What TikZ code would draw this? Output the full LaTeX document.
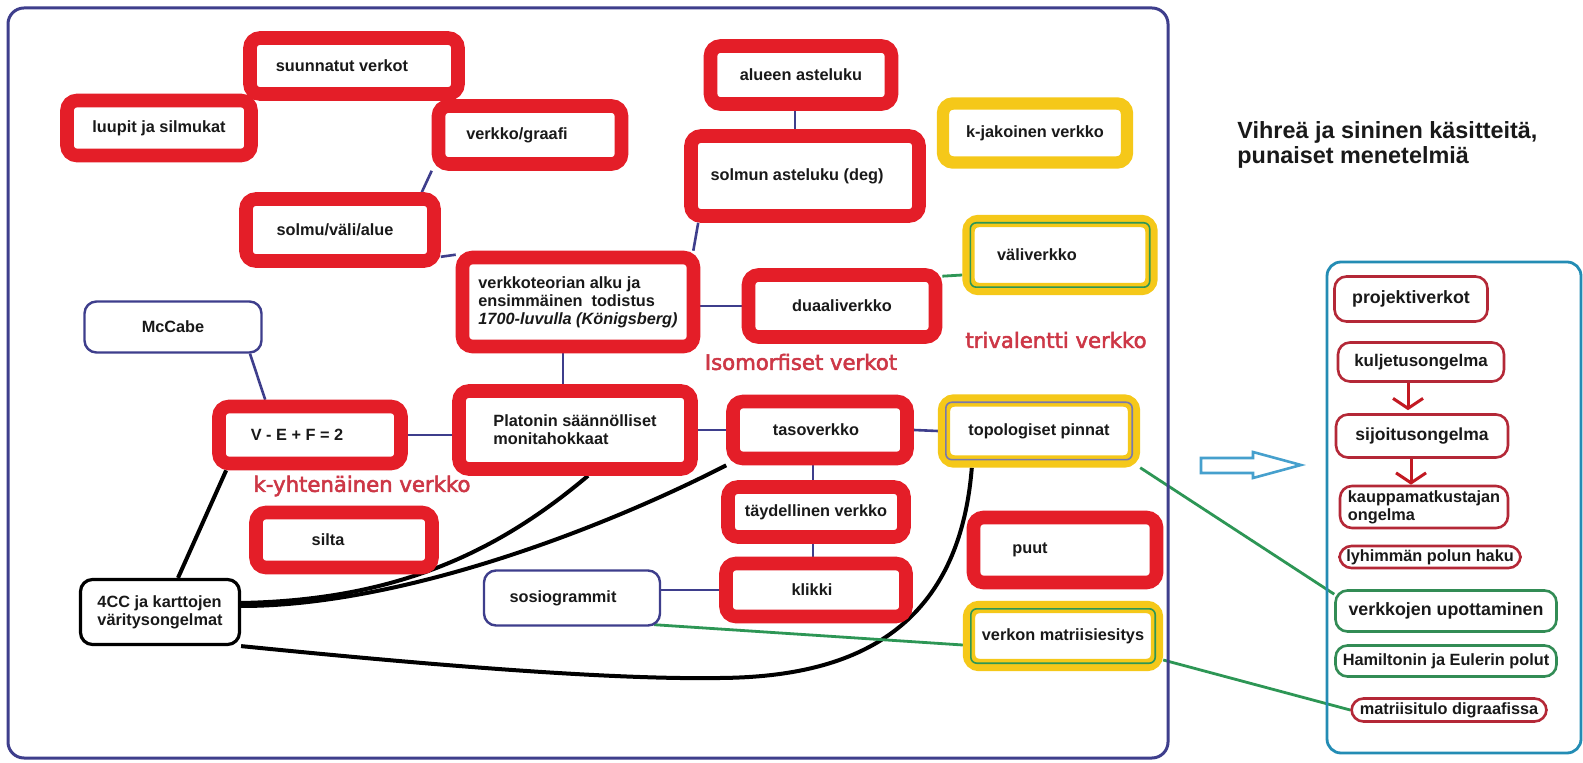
\documentclass[tikz,border=0pt]{standalone}
\usepackage{fontspec}
\setmainfont{Liberation Sans}
\newfontfamily\labelfont[FakeBold=2.5]{DejaVu Sans}
\usetikzlibrary{calc,backgrounds,arrows.meta}

\definecolor{boxred}{RGB}{228,30,40}
\definecolor{boxyel}{RGB}{245,200,25}
\definecolor{navy}{RGB}{62,62,140}
\definecolor{linkgreen}{RGB}{45,150,85}
\definecolor{dullred}{RGB}{180,40,55}
\definecolor{panelblue}{RGB}{35,140,180}
\definecolor{arrowblue}{RGB}{70,160,205}
\definecolor{notered}{RGB}{205,55,70}
\definecolor{ink}{RGB}{25,25,25}
\definecolor{mapgreen}{RGB}{50,140,85}

\newcommand\boxfont{\fontsize{8.15}{9}\selectfont\bfseries}
% trailing space that moves a centred label left by #1 picture units
\newcommand\lsh[1]{\hspace*{#1pt}}

\begin{document}
\begin{tikzpicture}[x=0.5pt,y=-0.5pt,
  sz/.style 2 args={minimum width=#1*0.5pt, minimum height=#2*0.5pt},
  boxbase/.style={rounded corners=5pt, fill=white, inner sep=0pt, font=\boxfont, text=ink, align=center},
  redbox/.style={boxbase, draw=boxred, line width=6.8pt},
  yelbox/.style={boxbase, draw=boxyel, line width=6.2pt},
  bluebox/.style={boxbase, draw=navy, line width=1.2pt, rounded corners=6pt},
  blackbox/.style={boxbase, draw=black, line width=1.6pt, rounded corners=6pt},
  pbox/.style={boxbase, draw=#1, line width=1.3pt, rounded corners=6pt},
  redlabel/.style={inner sep=0pt, text=notered, font={\labelfont\fontsize{10.6}{12}\selectfont}},
  navylink/.style={draw=navy, line width=1.3pt},
  greenlink/.style={draw=linkgreen, line width=1.4pt},
  blacklink/.style={draw=black, line width=2pt},
  redarrow/.style={draw=boxred!85!black, line width=1.5pt, -{Straight Barb[length=5pt,width=15pt]}},
  innerline/.style={line width=0.8pt, rounded corners=3pt}
]
\useasboundingbox (0,0) rectangle (1583,763);
\begin{pgfonlayer}{background}
  \fill[white] (0,0) rectangle (1583,763);
\end{pgfonlayer}

% outer frames
\node[draw=navy, line width=1.5pt, rounded corners=8pt, sz={1160}{750}, inner sep=0pt] (frame) at (588,383) {};
\node[draw=panelblue, line width=1.4pt, rounded corners=7pt, sz={254}{491}, inner sep=0pt] (panel) at (1454,507.5) {};

% red boxes
\node[redbox,sz={208}{56}] (suun) at (354,66) {suunnatut verkot\lsh{12}};
\node[redbox,sz={184}{55}] (luupit) at (159,128) {luupit ja silmukat};
\node[redbox,sz={183}{58}] (graafi) at (530,135) {verkko/graafi\lsh{13}};
\node[redbox,sz={188}{62}] (solmu) at (340,230) {solmu/väli/alue\lsh{5}};
\node[redbox,sz={231}{89},align=left] (teoria) at (578,302) {verkkoteorian alku ja\\ensimmäinen~ todistus\\{\itshape 1700-luvulla (Königsberg)}};
\node[redbox,sz={181}{58}] (alueen) at (801,75) {alueen asteluku};
\node[redbox,sz={228}{80}] (solmun) at (805,176) {solmun asteluku (deg)\lsh{8}};
\node[redbox,sz={187}{62}] (duaali) at (842,306) {duaaliverkko};
\node[redbox,sz={182}{57}] (vef) at (310,435) {V - E + F = 2\lsh{13}};
\node[redbox,sz={232}{78},align=left] (platon) at (575,430) {Platonin säännölliset\\monitahokkaat};
\node[redbox,sz={176}{55}] (silta) at (344,540) {silta\lsh{16}};
\node[redbox,sz={174}{57}] (taso) at (820,430) {tasoverkko\lsh{4}};
\node[redbox,sz={176}{50}] (tayd) at (816,512) {täydellinen verkko};
\node[redbox,sz={180}{53}] (klikki) at (816,590) {klikki\lsh{4}};
\node[redbox,sz={183}{65}] (puut) at (1065,550) {puut\lsh{35}};

% yellow boxes
\node[yelbox,sz={184}{59}] (kjak) at (1035,133) {k-jakoinen verkko};
\node[yelbox,sz={183}{68}] (vali) at (1060,255) {väliverkko\lsh{23}};
\node[yelbox,sz={190}{61}] (topo) at (1039,431) {topologiset pinnat};
\node[yelbox,sz={188}{58}] (matr) at (1063,636) {verkon matriisiesitys};
\draw[innerline, linkgreen] ($(vali.north west)+(8,8)$) rectangle ($(vali.south east)+(-8,-8)$);
\draw[innerline, navy!70] ($(topo.north west)+(8,8)$) rectangle ($(topo.south east)+(-8,-8)$);
\draw[innerline, linkgreen] ($(matr.north west)+(8,8)$) rectangle ($(matr.south east)+(-8,-8)$);

% blue and black boxes
\node[bluebox,sz={177}{51}] (mccabe) at (173,327) {McCabe};
\node[bluebox,sz={176}{55}] (sosio) at (572,598) {sosiogrammit\lsh{9}};
\node[blackbox,sz={159}{65},align=left] (cc4) at (160,612) {4CC ja karttojen\\väritysongelmat};

% free labels
\node[redlabel] (iso) at (801,362) {Isomorfiset verkot};
\node[redlabel] (triv) at (1056,340) {trivalentti verkko};
\node[redlabel] (kyht) at (362,486) {k-yhtenäinen verkko};
\node[anchor=west, align=left, inner sep=0pt, text=ink, font={\bfseries\fontsize{11.7}{12.5}\selectfont}] (title) at (1237,145) {Vihreä ja sininen käsitteitä,\\punaiset menetelmiä};

% method panel
\node[pbox=dullred, sz={153}{45}, font={\bfseries\fontsize{8.9}{10}\selectfont}] (proj) at (1411,299) {projektiverkot};
\node[pbox=dullred, sz={166}{39}, font={\bfseries\fontsize{8.45}{10}\selectfont}] (kulj) at (1421,362) {kuljetusongelma};
\node[pbox=dullred, sz={172}{43}, font={\bfseries\fontsize{8.75}{10}\selectfont}] (sij) at (1422,436) {sijoitusongelma};
\node[pbox=dullred, sz={168}{42}, align=left] (kaup) at (1424,507) {kauppamatkustajan\\ongelma};
\node[pbox=dullred, sz={181}{22}] (lyh) at (1430,557) {lyhimmän polun haku};
\node[pbox=mapgreen, sz={221}{41}, font={\bfseries\fontsize{8.9}{10}\selectfont}] (upot) at (1446,611) {verkkojen upottaminen};
\node[pbox=mapgreen, sz={221}{31}] (ham) at (1446,661) {Hamiltonin ja Eulerin polut};
\node[pbox=dullred, sz={195}{23}] (mt) at (1449,710) {matriisitulo digraafissa};

\draw[redarrow] ($(kulj.south)+(-13,0)$) -- ($(sij.north)+(-14,-3)$);
\draw[redarrow] ($(sij.south)+(-11,0)$) -- ($(kaup.north)+(-13,0)$);

% hollow pointer towards the method panel
\draw[arrowblue, line width=1.3pt, line join=miter] (1201,458) -- (1253,458) -- (1253,452) -- (1301,465) -- (1253,478) -- (1253,473) -- (1201,473) -- cycle;

\coordinate (dip) at (720,678);

% connectors, kept behind the boxes
\begin{pgfonlayer}{background}
  \draw[navylink] (graafi.south west) -- ($(solmu.north east)+(-19,0)$);
  \draw[navylink] ($(solmu.south east)+(0,-11)$) -- ($(teoria.north west)+(0,4)$);
  \draw[navylink] ($(alueen.south)+(-6,0)$) -- ($(solmun.north)+(-10,0)$);
  \draw[navylink] ($(solmun.south west)+(14,0)$) -- ($(teoria.north east)+(-7,0)$);
  \draw[navylink] (teoria.east |- duaali.west) -- (duaali.west);
  \draw[greenlink] ($(duaali.north east)+(0,8)$) -- ($(vali.west)+(0,20)$);
  \draw[navylink] ($(teoria.south)+(-15,0)$) -- ($(platon.north)+(-12,0)$);
  \draw[navylink] ($(mccabe.south)+(77,0)$) -- ($(vef.north west)+(53,0)$);
  \draw[navylink] (vef.east) -- (vef.east -| platon.west);
  \draw[navylink] (platon.east) -- (taso.west);
  \draw[navylink] (taso.east) -- (topo.west);
  \draw[navylink] ($(taso.south)+(-7,0)$) -- ($(tayd.north)+(-3,0)$);
  \draw[navylink] ($(tayd.south)+(-3,0)$) -- ($(klikki.north)+(-3,0)$);
  \draw[navylink] (sosio.east |- klikki.west) -- (klikki.west);
  \draw[blacklink] ($(cc4.north)+(18,0)$) -- ($(vef.south west)+(14,0)$);
  \draw[blacklink] ($(cc4.east)+(0,-9)$) .. controls (400,600) and (500,550) .. ($(platon.south)+(13,0)$);
  \draw[blacklink] ($(cc4.east)+(0,-6)$) .. controls (400,606) and (600,530) .. (taso.south west);
  \draw[blacklink] (cc4.south east) .. controls (400,662) and (600,680) .. (dip)
                   .. controls (840,677) and (958,640) .. ($(topo.south west)+(34,0)$);
  \draw[greenlink] ($(sosio.south east)+(-7,-2)$) -- ($(matr.west)+(0,9)$);
  \draw[greenlink] (topo.south east) -- ($(upot.north west)+(0,5)$);
  \draw[greenlink] ($(matr.east)+(0,24)$) -- (mt.west);
\end{pgfonlayer}
\end{tikzpicture}
\end{document}
